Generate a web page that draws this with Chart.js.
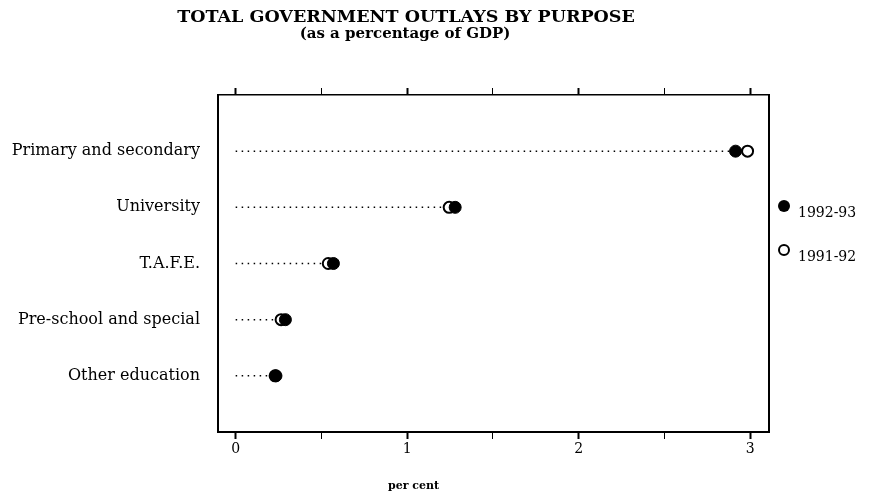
<!DOCTYPE html>
<html>
<head>
<meta charset="utf-8">
<script src="https://cdn.jsdelivr.net/npm/chart.js@4.4.1/dist/chart.umd.min.js"></script>
<style>
body { margin: 0; background: #fff; }
#wrap { position: relative; width: 878px; height: 498px; }
#wrap canvas { position: absolute; left: 0; top: 0; }
.txt { position: absolute; font-family: "DejaVu Serif", serif; color: #000; white-space: nowrap; }
.mark { position: absolute; width: 12px; height: 12px; border-radius: 50%; box-sizing: border-box; }
</style>
</head>
<body>
<div id="wrap">
  <canvas id="myChart" width="878" height="498"></canvas>
  <div class="txt" style="left:0;width:812px;top:6px;text-align:center;font-weight:bold;font-size:17.5px;">TOTAL GOVERNMENT OUTLAYS BY PURPOSE</div>
  <div class="txt" style="left:0;width:810px;top:24px;text-align:center;font-weight:bold;font-size:15px;">(as a percentage of GDP)</div>
  <div class="txt" style="left:0;width:827px;top:479px;text-align:center;font-weight:bold;font-size:11px;">per cent</div>
  <div class="mark" style="left:778px;top:200px;background:#000;"></div>
  <div class="txt" style="left:798px;top:204px;font-size:14px;">1992-93</div>
  <div class="mark" style="left:778px;top:244px;background:#fff;border:2px solid #000;"></div>
  <div class="txt" style="left:798px;top:248px;font-size:14px;">1991-92</div>
</div>
<script>
// values (per cent of GDP)
var categories = ['Primary and secondary', 'University', 'T.A.F.E.', 'Pre-school and special', 'Other education'];
var outlays9293 = [2.915, 1.28, 0.57, 0.29, 0.235];
var outlays9192 = [2.985, 1.245, 0.54, 0.265, 0.23];
var xTicks = [0, 0.5, 1, 1.5, 2, 2.5, 3];

var serif = { family: '"DejaVu Serif", serif', size: 14 };

function points(values) {
    return values.map(function (v, i) { return { x: v, y: i + 1 }; });
}

// dotted leader line from 0 to the 1992-93 value for each row
var leaders = categories.map(function (c, i) {
    return {
        type: 'line',
        data: [{ x: 0, y: i + 1 }, { x: outlays9293[i], y: i + 1 }],
        borderColor: '#000',
        borderWidth: 1.5,
        borderDash: [1.5, 4.5],
        pointRadius: 0
    };
});

var datasets = [
    {
        label: '1992-93',
        data: points(outlays9293),
        backgroundColor: '#000',
        borderColor: '#000',
        borderWidth: 1,
        pointRadius: 6
    },
    {
        label: '1991-92',
        data: points(outlays9192),
        backgroundColor: '#fff',
        borderColor: '#000',
        borderWidth: 2,
        pointRadius: 5.5
    }
].concat(leaders);

function setXTicks(s) {
    s.ticks = xTicks.map(function (v) { return { value: v }; });
}

function tickW(ctx) {
    return ctx.tick && Number.isInteger(ctx.tick.value) ? 2 : 1;
}

var outlayChart = new Chart('myChart', {
    type: 'scatter',
    data: { datasets: datasets },
    options: {
        responsive: false,
        animation: false,
        layout: { padding: { left: 0, right: 109, top: 0, bottom: 0 } },
        plugins: { legend: { display: false }, title: { display: false }, tooltip: { enabled: false } },
        scales: {
            x: {
                type: 'linear', position: 'bottom', min: -0.103, max: 3.11,
                afterBuildTicks: setXTicks,
                afterFit: function (s) { s.height = 66; },
                ticks: {
                    color: '#000', font: serif, padding: 2, maxRotation: 0,
                    callback: function (v) { return Number.isInteger(v) ? String(v) : ''; }
                },
                grid: { drawOnChartArea: false, tickLength: 7, tickColor: '#000', tickWidth: tickW },
                border: { display: true, color: '#000', width: 2 }
            },
            x2: {
                type: 'linear', position: 'top', min: -0.103, max: 3.11,
                afterBuildTicks: setXTicks,
                afterFit: function (s) { s.height = 95; },
                ticks: { display: false },
                grid: { drawOnChartArea: false, tickLength: 7, tickColor: '#000', tickWidth: tickW },
                border: { display: true, color: '#000', width: 1.5 }
            },
            y: {
                type: 'linear', position: 'left', min: 0, max: 6, reverse: true,
                afterBuildTicks: function (s) {
                    s.ticks = categories.map(function (c, i) { return { value: i + 1 }; });
                },
                afterFit: function (s) { s.width = 218; },
                ticks: {
                    color: '#000', font: { family: '"DejaVu Serif", serif', size: 16 }, padding: 18,
                    callback: function (v) { return categories[v - 1]; }
                },
                grid: { drawOnChartArea: false, drawTicks: false },
                border: { display: true, color: '#000', width: 2 }
            },
            y2: {
                type: 'linear', position: 'right', min: 0, max: 6,
                afterFit: function (s) { s.width = 0; },
                ticks: { display: false },
                grid: { display: false },
                border: { display: true, color: '#000', width: 2 }
            }
        }
    }
});
</script>
</body>
</html>
